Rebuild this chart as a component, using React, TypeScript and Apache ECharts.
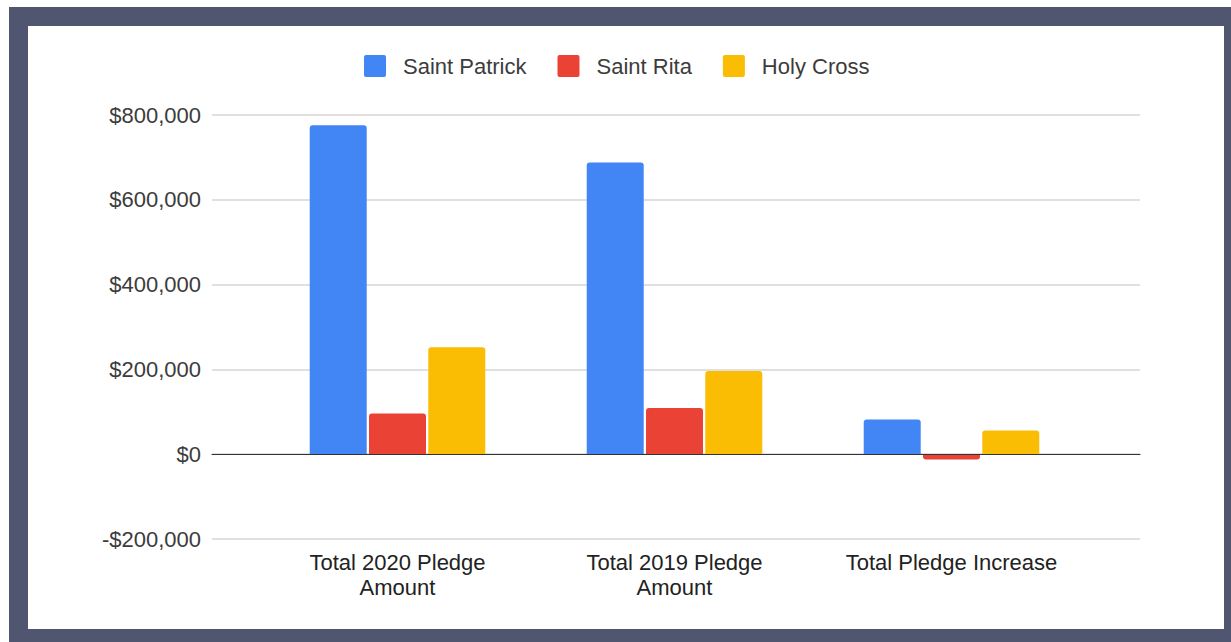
import React, { useEffect, useRef } from "react";
import * as echarts from "echarts";

const categories = ["Total 2020 Pledge\nAmount", "Total 2019 Pledge\nAmount", "Total Pledge Increase"];
const seriesNames = ["Saint Patrick", "Saint Rita", "Holy Cross"];
const saintPatrick = [776000, 688000, 82000];
const saintRita = [96000, 109000, -12500];
const holyCross = [252000, 196000, 56000];
const colors = ["#4285F4", "#EA4335", "#FBBC04"];
const yMin = -200000;
const yMax = 800000;
const yInterval = 200000;

const FONT = "'Liberation Sans', Arial, sans-serif";

function fmtMoney(v: number): string {
  const abs = Math.abs(v).toLocaleString("en-US");
  return (v < 0 ? "-$" : "$") + abs;
}

export default function App() {
  const ref = useRef<HTMLDivElement>(null);
  useEffect(() => {
    if (!ref.current) return;
    const chart = echarts.init(ref.current, null, { renderer: "svg" });
    const values = [saintPatrick, saintRita, holyCross];
    chart.setOption({
      animation: false,
      backgroundColor: "#ffffff",
      textStyle: { fontFamily: FONT },
      legend: {
        left: 331,
        top: 24,
        itemWidth: 22,
        itemHeight: 22,
        itemGap: 31,
        icon: "path://M2,0 L20,0 Q22,0 22,2 L22,20 Q22,22 20,22 L2,22 Q0,22 0,20 L0,2 Q0,0 2,0 Z",
        data: seriesNames,
        textStyle: { fontSize: 22, color: "#3c3c3c", fontFamily: FONT, padding: [0, 0, 0, 12] },
      },
      grid: [
        { left: 184, right: 84, top: 89, bottom: 90, containLabel: false },
        { left: 231, right: 134, top: 89, bottom: 90, containLabel: false },
      ],
      xAxis: [
        {
          type: "value",
          gridIndex: 0,
          min: 0,
          max: 1,
          axisLine: { show: true, onZero: true, lineStyle: { color: "#333333", width: 1.2 } },
          axisTick: { show: false },
          axisLabel: { show: false },
          splitLine: { show: false },
          z: 5,
        },
        {
          type: "category",
          gridIndex: 1,
          data: categories,
          axisLine: { show: false, onZero: false },
          axisTick: { show: false },
          axisLabel: {
            fontSize: 22,
            color: "#222222",
            fontFamily: FONT,
            lineHeight: 25,
            margin: 11,
            interval: 0,
          },
          splitLine: { show: false },
        },
      ],
      yAxis: [
        {
          type: "value",
          gridIndex: 0,
          min: yMin,
          max: yMax,
          interval: yInterval,
          axisLine: { show: false },
          axisTick: { show: false },
          axisLabel: {
            fontSize: 22,
            color: "#3c3c3c",
            fontFamily: FONT,
            margin: 11,
            formatter: (v: number) => fmtMoney(v),
          },
          splitLine: { show: true, lineStyle: { color: "#d6d6d6", width: 1.5 } },
        },
        {
          type: "value",
          gridIndex: 1,
          min: yMin,
          max: yMax,
          interval: yInterval,
          show: false,
          splitLine: { show: false },
        },
      ],
      series: seriesNames.map((name, i) => ({
        name,
        type: "bar",
        xAxisIndex: 1,
        yAxisIndex: 1,
        barWidth: 57,
        barGap: "4%",
        z: 3,
        itemStyle: { color: colors[i], borderRadius: [3, 3, 0, 0] },
        data: values[i].map((v) =>
          v < 0 ? { value: v, itemStyle: { borderRadius: [0, 0, 3, 3] } } : v
        ),
      })),
    });
    return () => chart.dispose();
  }, []);

  return (
    <div
      style={{
        position: "fixed",
        left: 9,
        top: 7,
        width: 1222,
        height: 635,
        background: "#50566f",
      }}
    >
      <div
        ref={ref}
        style={{
          position: "absolute",
          left: 19,
          top: 19,
          width: 1196,
          height: 603,
          background: "#ffffff",
        }}
      />
    </div>
  );
}
